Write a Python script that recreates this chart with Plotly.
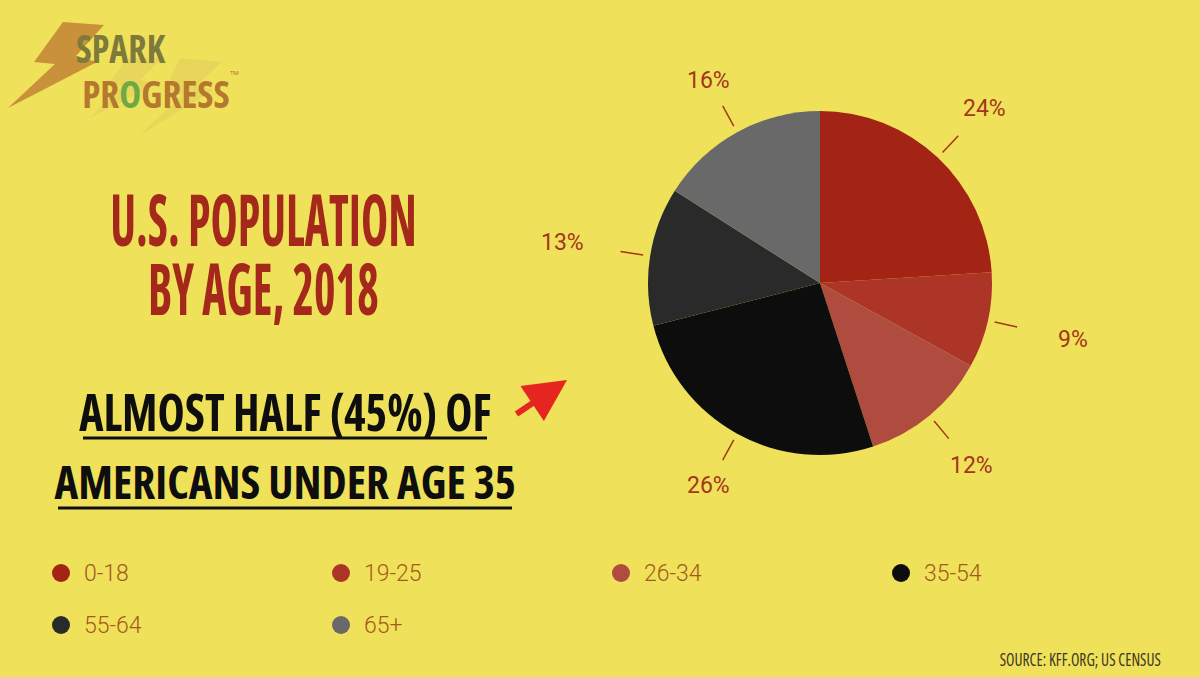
import math
import json
import plotly.graph_objects as go

# ---------------- data ----------------
age_groups = ["0-18", "19-25", "26-34", "35-54", "55-64", "65+"]
shares = [24, 9, 12, 26, 13, 16]
slice_colors = ["#A32315", "#AC3527", "#B04B3F", "#0D0D0D", "#2A2A2A", "#6A696A"]

title_lines = ["U.S. POPULATION", "BY AGE, 2018"]
subtitle_lines = ["ALMOST HALF (45%) OF", "AMERICANS UNDER AGE 35"]
source_text = "SOURCE: KFF.ORG; US CENSUS"

# ---------------- layout constants ----------------
W, H = 1200, 677
BG = "#F0E15A"
LABEL_COLOR = "#A5361B"
LEGEND_TEXT = "#A35A1A"
COND = "Open Sans"          # rendered condensed (font-stretch) via the post script

cx, cy, R = 820, 283, 172  # pie centre / radius in px


def px(x):
    return x / W


def py(y):
    return 1 - y / H


fig = go.Figure()

fig.add_trace(go.Pie(
    labels=age_groups,
    values=shares,
    sort=False,
    direction="clockwise",
    rotation=0,
    marker=dict(colors=slice_colors, line=dict(width=0)),
    textinfo="none",
    hoverinfo="label+percent",
    showlegend=False,
    domain=dict(x=[px(cx - R), px(cx + R)], y=[py(cy + R), py(cy - R)]),
))

annotations = []
shapes = []

# outside percentage labels with tick marks, positioned from the data
total = sum(shares)
cum = 0
a_ell, b_ell = 262, 224
for v in shares:
    mid = (cum + v / 2) / total * 2 * math.pi
    cum += v
    s, c = math.sin(mid), math.cos(mid)
    r_lab = 1 / math.sqrt((s / a_ell) ** 2 + (c / b_ell) ** 2)
    lx, ly = cx + r_lab * s, cy - r_lab * c
    annotations.append(dict(
        x=px(lx), y=py(ly), xref="paper", yref="paper",
        text=f"{v}%", showarrow=False,
        font=dict(family="Roboto", size=23, color=LABEL_COLOR),
        xanchor="center", yanchor="middle",
    ))
    r0, r1 = R + 7, R + 30
    shapes.append(dict(
        type="line", xref="paper", yref="paper",
        x0=px(cx + r0 * s), y0=py(cy - r0 * c),
        x1=px(cx + r1 * s), y1=py(cy - r1 * c),
        line=dict(color=LABEL_COLOR, width=1.5),
    ))

# legend: 4 columns, 2 rows
for i, (lab, col) in enumerate(zip(age_groups, slice_colors)):
    colx = 61 + (i % 4) * 280
    rowy = 573 + (i // 4) * 52
    shapes.append(dict(
        type="circle", xref="paper", yref="paper",
        xsizemode="pixel", ysizemode="pixel",
        xanchor=px(colx), yanchor=py(rowy),
        x0=-9, x1=9, y0=-9, y1=9,
        fillcolor=col, line=dict(width=0),
    ))
    annotations.append(dict(
        x=px(colx + 21), y=py(rowy), xref="paper", yref="paper",
        text=lab, showarrow=False, xanchor="left", yanchor="middle",
        font=dict(family="Roboto", size=23, color=LEGEND_TEXT, weight=300),
    ))

# title
for txt, yy in zip(title_lines, [218, 287]):
    annotations.append(dict(
        x=px(263), y=py(yy), xref="paper", yref="paper", text=txt,
        showarrow=False, xanchor="center", yanchor="middle",
        font=dict(family=COND, size=46, color="#A5291B", weight=700),
    ))

# subtitle with underline
for txt, yy, sz, uy, ux0, ux1 in zip(subtitle_lines, [411, 480], [46, 45], [438, 508], [83, 58], [487, 512]):
    annotations.append(dict(
        x=px(285), y=py(yy), xref="paper", yref="paper", text=txt,
        showarrow=False, xanchor="center", yanchor="middle",
        font=dict(family=COND, size=sz, color="#0E0E0E", weight=700),
    ))
    shapes.append(dict(
        type="line", xref="paper", yref="paper",
        x0=px(ux0), x1=px(ux1), y0=py(uy), y1=py(uy),
        line=dict(color="#0E0E0E", width=3),
    ))

# red arrow
annotations.append(dict(
    x=px(567), y=py(380), xref="paper", yref="paper",
    ax=-52, ay=35, text="", showarrow=True,
    arrowhead=2, arrowsize=1.4, arrowwidth=6, arrowcolor="#E62420",
))

# source
annotations.append(dict(
    x=px(1080), y=py(659), xref="paper", yref="paper", text=source_text,
    showarrow=False, xanchor="center", yanchor="middle",
    font=dict(family=COND, size=15.5, color="#3A3524", weight=500),
))


# logo: lightning bolts + wordmark
def bolt_path(pts):
    return "M " + " L ".join(f"{px(x):.5f} {py(y):.5f}" for x, y in pts) + " Z"


shapes.append(dict(type="path", xref="paper", yref="paper",
                   path=bolt_path([(128, 58), (162, 58), (140, 80), (156, 84), (90, 118), (122, 86), (108, 84)]),
                   fillcolor="#E8D65A", line=dict(width=0), layer="below"))
shapes.append(dict(type="path", xref="paper", yref="paper",
                   path=bolt_path([(180, 58), (222, 62), (196, 86), (214, 90), (140, 135), (182, 95), (164, 92)]),
                   fillcolor="#E8D65A", line=dict(width=0), layer="below"))
shapes.append(dict(type="path", xref="paper", yref="paper",
                   path=bolt_path([(63, 22), (104, 25), (76, 56), (97, 62), (8, 108), (55, 64), (34, 62)]),
                   fillcolor="#C8913A", line=dict(width=0)))

annotations.append(dict(
    x=px(120), y=py(49), xref="paper", yref="paper", text="SPARK",
    showarrow=False, xanchor="center", yanchor="middle",
    font=dict(family=COND, size=36, color="#7E7A3B", weight=700),
))
annotations.append(dict(
    x=px(156), y=py(93), xref="paper", yref="paper",
    text="PR<span style='color:#6FA844'>O</span>GRESS",
    showarrow=False, xanchor="center", yanchor="middle",
    font=dict(family=COND, size=37, color="#B5782F", weight=700),
))
annotations.append(dict(
    x=px(234), y=py(72), xref="paper", yref="paper", text="TM",
    showarrow=False, xanchor="center", yanchor="middle",
    font=dict(family="Roboto", size=6, color="#B5782F"),
))

fig.update_layout(
    width=W, height=H,
    margin=dict(l=0, r=0, t=0, b=0),
    paper_bgcolor=BG, plot_bgcolor=BG,
    annotations=annotations, shapes=shapes,
    showlegend=False,
)

# vertical stretch factors that imitate the tall condensed display face
stretch = {
    title_lines[0]: 1.55, title_lines[1]: 1.55,
    subtitle_lines[0]: 1.12, subtitle_lines[1]: 1.05,
    source_text: 1.2, "SPARK": 1.1, "PROGRESS": 1.0,
}

post = """
(function(){
  var st = document.createElement('style');
  st.textContent = "text.annotation-text[style*='Open Sans']{font-stretch:75%;}";
  document.head.appendChild(st);
  var gd = document.getElementById('{plot_id}');
  var sc = STRETCH;
  function applyScale(){
    document.querySelectorAll('text.annotation-text').forEach(function(t){
      var k = t.textContent;
      if (sc[k]) {
        t.style.transformBox = 'fill-box';
        t.style.transformOrigin = 'center';
        t.style.transform = 'scaleY(' + sc[k] + ')';
      }
    });
  }
  Plotly.newPlot(gd, gd.data, gd.layout, gd._context).then(applyScale);
})();
""".replace("STRETCH", json.dumps(stretch))

fig.write_html("out.html", post_script=post)
